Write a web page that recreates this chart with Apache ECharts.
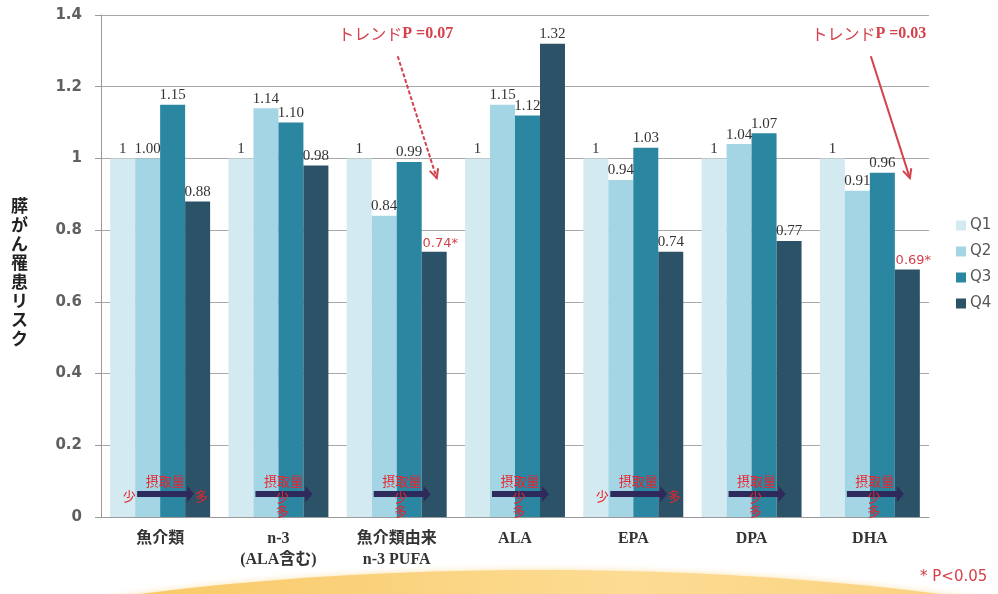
<!DOCTYPE html>
<html>
<head>
<meta charset="utf-8">
<script src="https://cdn.jsdelivr.net/npm/echarts@6/dist/echarts.min.js"></script>
<style>
  html, body { margin: 0; padding: 0; background: #fff; }
  #chart { width: 998px; height: 594px; }
</style>
</head>
<body>
<div id="chart"></div>
<script>
// Categories (fatty-acid / food groups) and quartile risk ratios
const categories = ['魚介類', 'n-3\n(ALA含む)', '魚介類由来\nn-3 PUFA', 'ALA', 'EPA', 'DPA', 'DHA'];
const seriesNames = ['Q1', 'Q2', 'Q3', 'Q4'];
const q1 = [1, 1, 1, 1, 1, 1, 1];
const q2 = [1.00, 1.14, 0.84, 1.15, 0.94, 1.04, 0.91];
const q3 = [1.15, 1.10, 0.99, 1.12, 1.03, 1.07, 0.96];
const q4 = [0.88, 0.98, 0.74, 1.32, 0.74, 0.77, 0.69];
// Q4 results significant at P<0.05
const q4Significant = [false, false, true, false, false, false, true];
// Trend P-values and the category they point at
const trendCats = [2, 6];
const trendTexts = ['0.07', '0.03'];
const trendDashed = [true, false];
// Intake arrow caption layout per category: 'side' = 少 left / 多 right, 'stack' = under the arrow
const intakeLayout = ['side', 'stack', 'stack', 'stack', 'side', 'stack', 'stack'];
const yMin = 0, yMax = 1.4, yStep = 0.2;

const colors = ['#d3eaf1', '#a4d5e4', '#2b86a1', '#2c5267'];
const red = '#d4414b';
const brightRed = '#e8242e';
const serif = '"Liberation Serif", "DejaVu Serif", "Noto Sans CJK JP", serif';
const sans = '"DejaVu Sans", "Noto Sans CJK JP", sans-serif';

const chart = echarts.init(document.getElementById('chart'), null, { renderer: 'canvas' });

function makeSeries(name, data, idx) {
  return {
    name: name,
    type: 'bar',
    data: data,
    barGap: '0%',
    barCategoryGap: '15.5%',
    itemStyle: { color: colors[idx] },
    label: {
      show: true,
      position: 'top',
      distance: 2,
      fontFamily: serif,
      fontSize: 15,
      color: '#333',
      formatter: function (p) {
        if (idx === 0) return String(p.value);
        if (idx === 3 && q4Significant[p.dataIndex]) return '{sig|' + p.value.toFixed(2) + '*}';
        return p.value.toFixed(2);
      },
      rich: {
        sig: { fontFamily: sans, fontSize: 13, color: red, padding: [0, 0, 0, 12] }
      }
    }
  };
}

const option = {
  animation: false,
  backgroundColor: '#ffffff',
  color: colors,
  grid: { left: 101, right: 69, top: 15, bottom: 77 },
  legend: {
    orient: 'vertical',
    left: 951,
    top: 213,
    itemWidth: 10,
    itemHeight: 10,
    itemGap: 11,
    icon: 'rect',
    data: seriesNames,
    textStyle: { fontFamily: sans, fontSize: 15, color: '#555', padding: [0, 0, 0, -1] }
  },
  xAxis: {
    type: 'category',
    data: categories,
    axisLine: { lineStyle: { color: '#9a9a9a', width: 1 } },
    axisTick: { show: false },
    axisLabel: {
      margin: 11,
      fontFamily: serif,
      fontWeight: 'bold',
      fontSize: 16,
      lineHeight: 21,
      color: '#333'
    }
  },
  yAxis: {
    type: 'value',
    min: yMin,
    max: yMax,
    interval: yStep,
    axisLine: { show: true, lineStyle: { color: '#9a9a9a' } },
    axisTick: { show: true, length: 6, lineStyle: { color: '#9a9a9a' } },
    splitLine: { lineStyle: { color: '#a8a8a8', width: 1 } },
    axisLabel: {
      margin: 19,
      fontFamily: sans,
      fontWeight: 'bold',
      fontSize: 15,
      color: '#606060'
    }
  },
  series: [
    makeSeries('Q1', q1, 0),
    makeSeries('Q2', q2, 1),
    makeSeries('Q3', q3, 2),
    makeSeries('Q4', q4, 3)
  ]
};

chart.setOption(option);

// Annotation layer: background swoosh, trend notes, intake arrows, axis title
function px(cat) { return chart.convertToPixel({ xAxisIndex: 0 }, cat); }
function py(v) { return chart.convertToPixel({ yAxisIndex: 0 }, v); }

const g = [];
const TOP = 100;

// Orange swoosh along the bottom edge
g.push({
  type: 'ellipse',
  shape: { cx: 540, cy: 790, rx: 880, ry: 220 },
  style: {
    fill: new echarts.graphic.LinearGradient(0, 0, 1, 0, [
      { offset: 0, color: '#f5b23e' },
      { offset: 0.3, color: '#f9cb6c' },
      { offset: 0.55, color: '#fcdc93' },
      { offset: 1, color: '#f8c464' }
    ]),
    shadowBlur: 6,
    shadowColor: 'rgba(250,205,110,0.6)'
  },
  z: -10,
  silent: true
});

// Vertical axis title
g.push({
  type: 'text',
  left: 11,
  top: 196,
  z: TOP,
  style: {
    text: '膵がん罹患リスク'.split('').join('\n'),
    font: 'bold 17px "Noto Sans CJK JP", sans-serif',
    lineHeight: 19,
    fill: '#222',
    align: 'left'
  }
});

// Significance footnote
g.push({
  type: 'text',
  left: 920,
  top: 570,
  z: TOP,
  style: { text: '* P<0.05', font: '15px ' + sans, fill: red }
});

// Trend notes with arrows
trendCats.forEach(function (cat, i) {
  const cx = px(cat);
  g.push({
    type: 'text',
    x: cx - 1,
    y: py(1.347),
    z: TOP,
    style: {
      text: '{a|トレンド}{b|P =' + trendTexts[i] + '}',
      align: 'center',
      verticalAlign: 'middle',
      fill: red,
      rich: {
        a: { fontFamily: '"Noto Sans CJK JP", sans-serif', fontSize: 16, fill: red },
        b: { fontFamily: serif, fontWeight: 'bold', fontSize: 16, fill: red }
      }
    }
  });
  const x1 = cx + 1, y1 = py(1.285), x2 = cx + 40, y2 = py(0.945);
  const lineStyle = { stroke: red, lineWidth: 2, lineDash: trendDashed[i] ? [4, 2] : null, fill: null };
  g.push({ type: 'line', z: TOP, shape: { x1: x1, y1: y1, x2: x2, y2: y2 }, style: lineStyle });
  const ang = Math.atan2(y2 - y1, x2 - x1);
  const hl = 10, spread = 0.45;
  g.push({
    type: 'polyline',
    z: TOP,
    shape: {
      points: [
        [x2 - hl * Math.cos(ang - spread), y2 - hl * Math.sin(ang - spread)],
        [x2, y2],
        [x2 - hl * Math.cos(ang + spread), y2 - hl * Math.sin(ang + spread)]
      ]
    },
    style: { stroke: red, lineWidth: 2, fill: null }
  });
});

// Intake arrows (少 → 多) inside each group
const baseY = py(0);
categories.forEach(function (c, i) {
  const cx = px(i);
  const ay = baseY - 23;
  g.push({
    type: 'rect',
    z: TOP,
    shape: { x: cx - 23, y: ay - 3, width: 51, height: 6 },
    style: { fill: '#2e2b5c' }
  });
  g.push({
    type: 'polygon',
    z: TOP,
    shape: { points: [[cx + 27, ay - 8], [cx + 34, ay], [cx + 27, ay + 8]] },
    style: { fill: '#2e2b5c' }
  });
  const font = '13px "Noto Sans CJK JP", sans-serif';
  g.push({
    type: 'text', x: cx + 5, y: baseY - 36, z: TOP,
    style: { text: '摂取量', font: font, fill: brightRed, align: 'center', verticalAlign: 'middle' }
  });
  if (intakeLayout[i] === 'side') {
    g.push({ type: 'text', x: cx - 31, y: baseY - 21, z: TOP,
      style: { text: '少', font: font, fill: brightRed, align: 'center', verticalAlign: 'middle' } });
    g.push({ type: 'text', x: cx + 41, y: baseY - 21, z: TOP,
      style: { text: '多', font: font, fill: brightRed, align: 'center', verticalAlign: 'middle' } });
  } else {
    g.push({ type: 'text', x: cx + 4, y: baseY - 20, z: TOP,
      style: { text: '少', font: font, fill: brightRed, align: 'center', verticalAlign: 'middle' } });
    g.push({ type: 'text', x: cx + 4, y: baseY - 6, z: TOP,
      style: { text: '多', font: font, fill: brightRed, align: 'center', verticalAlign: 'middle' } });
  }
});

chart.setOption({ graphic: g });
</script>
</body>
</html>
